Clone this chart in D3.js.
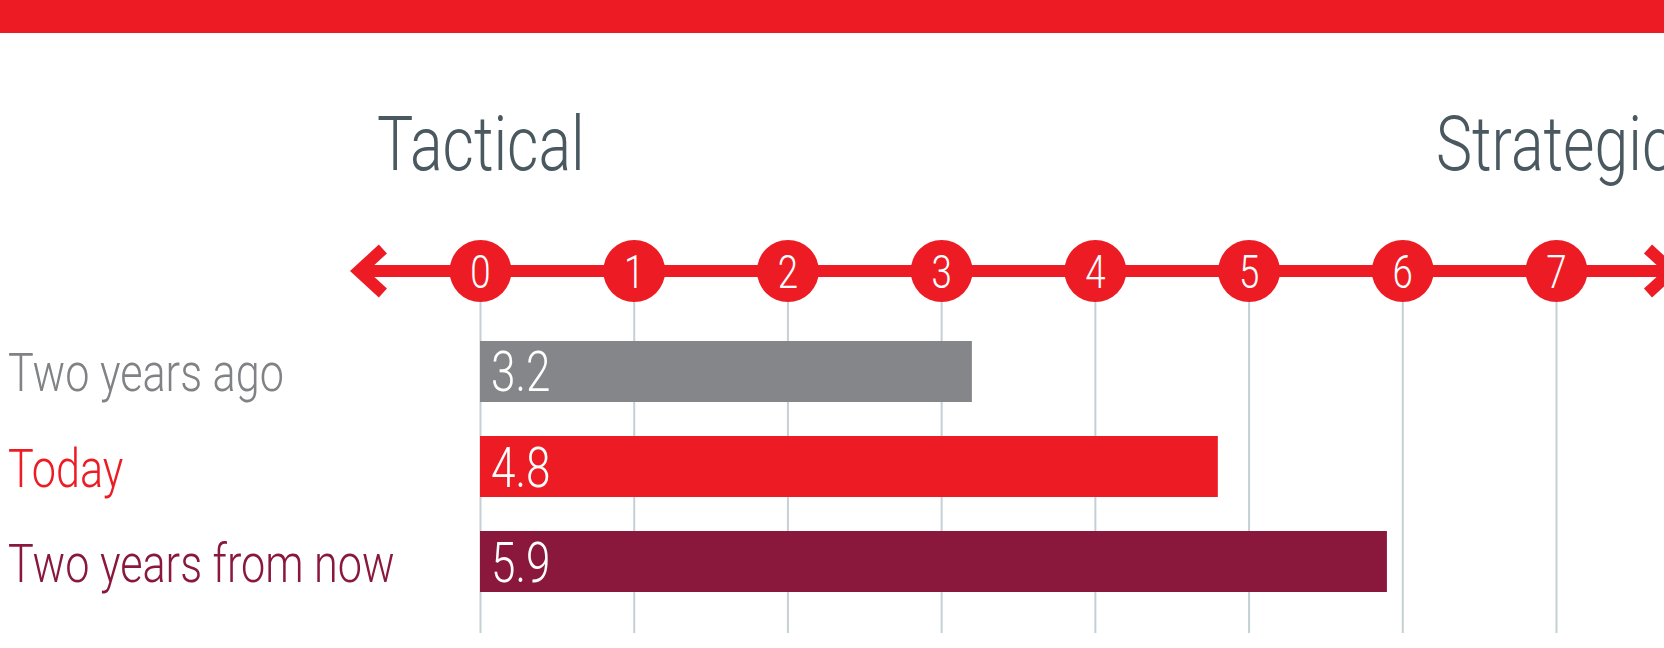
<!DOCTYPE html>
<html>
<head>
<meta charset="utf-8">
<script src="https://cdn.jsdelivr.net/npm/d3@7"></script>
<style>
  html, body { margin: 0; padding: 0; background: #fff; }
  svg { display: block; }
  text { font-family: Roboto, "Open Sans", sans-serif; font-weight: 300; }
</style>
</head>
<body>
<div id="chart"></div>
<script>
'use strict';

// chart data
var categories = ['Two years ago', 'Today', 'Two years from now'];
var values = [3.2, 4.8, 5.9];
var tickValues = [0, 1, 2, 3, 4, 5, 6, 7];
var poleLabels = ['Tactical', 'Strategic'];

var barColors = ['#858689', '#ed1c24', '#8a173c'];
var labelColors = ['#808285', '#ed1c24', '#8a173c'];

var W = 1664, H = 648;
var red = '#ed1c24';
var axisY = 271;
var squeeze = 0.8;   // fake a condensed face

var svg = d3.select('#chart').append('svg')
  .attr('width', W)
  .attr('height', H);

// top band
svg.append('rect')
  .attr('x', 0).attr('y', 0)
  .attr('width', W).attr('height', 33)
  .attr('fill', red);

var x = d3.scaleLinear().domain([0, 7]).range([480, 1556]);

var y = d3.scaleBand()
  .domain(categories)
  .range([341, 592])
  .paddingInner(0.358)
  .paddingOuter(0);

var barColor = d3.scaleOrdinal(categories, barColors);
var labelColor = d3.scaleOrdinal(categories, labelColors);

var place = function(px, py) {
  return 'translate(' + px + ',' + py + ') scale(' + squeeze + ',1)';
};

// pole titles
svg.selectAll('.pole').data(poleLabels).enter()
  .append('text')
  .attr('class', 'pole')
  .attr('transform', function(d, i) { return place(i === 0 ? 377 : 1436, 170); })
  .attr('fill', '#4a5860')
  .attr('font-size', 76)
  .text(function(d) { return d; });

// grid lines via axis
var axis = d3.axisBottom(x)
  .tickValues(tickValues)
  .tickSize(633 - axisY)
  .tickFormat(d3.format('d'));

var axisG = svg.append('g')
  .attr('transform', 'translate(0,' + axisY + ')')
  .call(axis);

axisG.select('.domain').remove();
axisG.selectAll('.tick line')
  .attr('stroke', '#c5d0d5')
  .attr('stroke-width', 2);

// main line with arrows
var lineG = svg.append('g');
var arrowL = x(-0.84) + 8;
var arrowR = 1672;

lineG.append('line')
  .attr('x1', arrowL).attr('x2', arrowR)
  .attr('y1', axisY).attr('y2', axisY)
  .attr('stroke', red)
  .attr('stroke-width', 12);

lineG.append('path')
  .attr('d', 'M' + (arrowL + 24) + ',' + (axisY - 22) + 'L' + arrowL + ',' + axisY + 'L' + (arrowL + 24) + ',' + (axisY + 22))
  .attr('fill', 'none')
  .attr('stroke', red)
  .attr('stroke-width', 12)
  .attr('stroke-linejoin', 'miter');

lineG.append('path')
  .attr('d', 'M' + (arrowR - 24) + ',' + (axisY - 22) + 'L' + arrowR + ',' + axisY + 'L' + (arrowR - 24) + ',' + (axisY + 22))
  .attr('fill', 'none')
  .attr('stroke', red)
  .attr('stroke-width', 12)
  .attr('stroke-linejoin', 'miter');

// raise ticks above the line, add circles
axisG.raise();
axisG.selectAll('.tick').each(function() {
  d3.select(this).insert('circle', 'text')
    .attr('cx', 0).attr('cy', 0)
    .attr('r', 31)
    .attr('fill', red);
});
axisG.selectAll('.tick text')
  .attr('y', 0)
  .attr('dy', '0.36em')
  .attr('transform', 'scale(0.78,1)')
  .attr('fill', '#fff')
  .attr('font-size', 47)
  .attr('font-family', 'Roboto, sans-serif')
  .attr('font-weight', 300);

// bars
svg.selectAll('.bar').data(categories).enter()
  .append('rect')
  .attr('class', 'bar')
  .attr('x', x(0))
  .attr('y', function(d) { return y(d); })
  .attr('width', function(d, i) { return x(values[i]) - x(0); })
  .attr('height', y.bandwidth())
  .attr('fill', function(d) { return barColor(d); });

// value labels
svg.selectAll('.val').data(categories).enter()
  .append('text')
  .attr('class', 'val')
  .attr('transform', function(d) { return place(x(0) + 11, y(d) + y.bandwidth() / 2 + 20); })
  .attr('fill', '#fff')
  .attr('font-size', 55)
  .text(function(d, i) { return d3.format('.1f')(values[i]); });

// row labels
svg.selectAll('.cat').data(categories).enter()
  .append('text')
  .attr('class', 'cat')
  .attr('transform', function(d) { return place(8, y(d) + y.bandwidth() / 2 + 20); })
  .attr('fill', function(d) { return labelColor(d); })
  .attr('font-size', 54)
  .text(function(d) { return d; });
</script>
</body>
</html>
